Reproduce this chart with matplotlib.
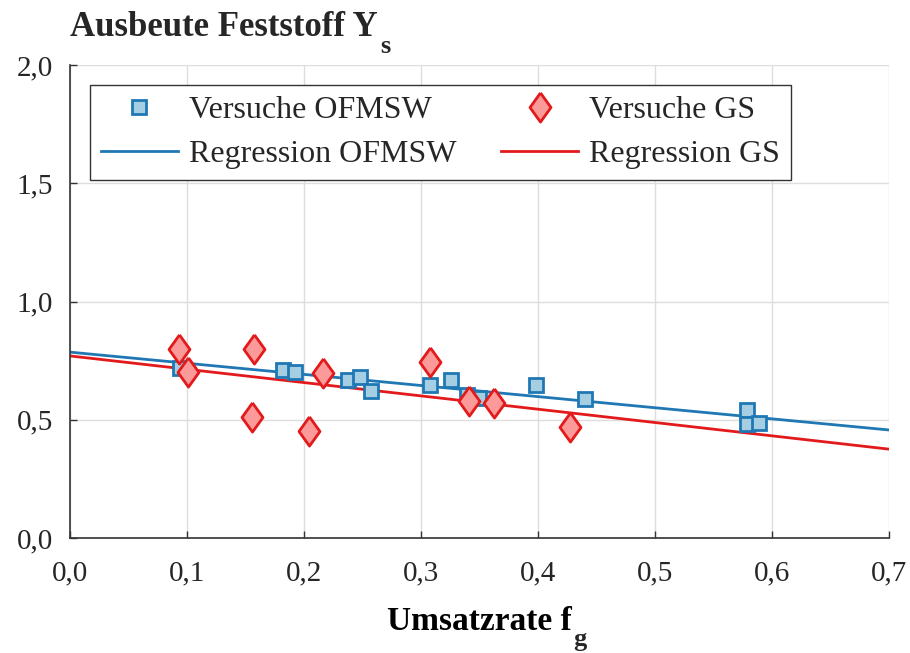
import numpy as np
import matplotlib
matplotlib.use("Agg")
import matplotlib.pyplot as plt

plt.rcParams['font.family'] = ['Liberation Serif', 'DejaVu Serif']
plt.rcParams['text.color'] = '#262626'

# Versuche OFMSW
ofmsw_x = [0.094, 0.182, 0.192, 0.238, 0.248, 0.257, 0.308, 0.326, 0.339, 0.350, 0.398, 0.440, 0.579, 0.579, 0.589]
ofmsw_y = [0.719, 0.710, 0.702, 0.668, 0.681, 0.622, 0.647, 0.668, 0.605, 0.592, 0.647, 0.588, 0.541, 0.482, 0.486]

# Versuche GS
gs_x = [0.093, 0.101, 0.157, 0.156, 0.204, 0.216, 0.308, 0.341, 0.362, 0.427]
gs_y = [0.799, 0.702, 0.799, 0.512, 0.452, 0.698, 0.744, 0.579, 0.571, 0.469]

# Regression (Achsenabschnitt, Steigung)
reg_ofmsw = (0.786, -0.470)
reg_gs = (0.770, -0.563)

xticks = [0.0, 0.1, 0.2, 0.3, 0.4, 0.5, 0.6, 0.7]
yticks = [0.0, 0.5, 1.0, 1.5, 2.0]

blue = '#1f78b4'
blue_fill = '#a6cee3'
red = '#e31a1c'
red_fill = '#fb9a99'

# Raute etwas breiter als 'd'
diamond = [(0, 1), (0.72, 0), (0, -1), (-0.72, 0), (0, 1)]

fig = plt.figure(figsize=(9.1, 6.53), dpi=100)
ax = fig.add_axes([0.0769, 0.176, 0.9, 0.7245])

xr = np.array([0.0, 0.7])
ax.plot(ofmsw_x, ofmsw_y, 's', ms=10, mfc=blue_fill, mec=blue, mew=2, ls='none',
        label='Versuche OFMSW', zorder=3)
ax.plot(gs_x, gs_y, marker=diamond, ms=21, mfc=red_fill, mec=red, mew=2, ls='none',
        label='Versuche GS', zorder=3)
ax.plot(xr, reg_ofmsw[0] + reg_ofmsw[1] * xr, color=blue, lw=2,
        label='Regression OFMSW', zorder=2)
ax.plot(xr, reg_gs[0] + reg_gs[1] * xr, color=red, lw=2,
        label='Regression GS', zorder=2)

ax.set_xlim(0, 0.7)
ax.set_ylim(0, 2.0)
ax.set_xticks(xticks)
ax.set_yticks(yticks)
ax.set_xticklabels([f"{v:.1f}".replace('.', ',') for v in xticks])
ax.set_yticklabels([f"{v:.1f}".replace('.', ',') for v in yticks])
ax.tick_params(direction='in', labelsize=21, length=5, width=1, pad=12,
               colors='#333333', labelcolor='#262626')
ax.tick_params(axis='x', pad=16)
ax.grid(True, color='#dddddd', lw=1)
ax.set_axisbelow(True)
for s in ['top', 'right']:
    ax.spines[s].set_visible(False)
for s in ['left', 'bottom']:
    ax.spines[s].set_linewidth(1.2)
    ax.spines[s].set_color('#333333')

# Achsentitel mit tiefgestelltem Index
ax.set_xlabel('Umsatzrate f', fontsize=24, fontweight='bold', labelpad=14)
ax.annotate('g', xy=(1, 0), xycoords=ax.xaxis.label, xytext=(1, -6.5),
            textcoords='offset points', fontsize=19, fontweight='bold',
            ha='left', va='baseline')
title = fig.text(0.0769, 1 - 36 / 653, 'Ausbeute Feststoff Y', fontsize=25,
                 fontweight='bold', ha='left', va='baseline')
ax.annotate('s', xy=(1, 0), xycoords=title, xytext=(2, -6.5),
            textcoords='offset points', fontsize=19, fontweight='bold',
            ha='left', va='baseline')

handles, labels = ax.get_legend_handles_labels()
order = [0, 2, 1, 3]
leg = ax.legend([handles[i] for i in order], [labels[i] for i in order], ncol=2,
                loc='upper left', bbox_to_anchor=(0.0244, 0.958), borderaxespad=0,
                fontsize=23, frameon=True, fancybox=False, edgecolor='#333333',
                framealpha=1, handlelength=2.4, columnspacing=1.4, borderpad=0.35,
                labelspacing=0.45, handletextpad=0.35)
leg.get_frame().set_linewidth(1.0)

fig.savefig('out.png', dpi=100)
